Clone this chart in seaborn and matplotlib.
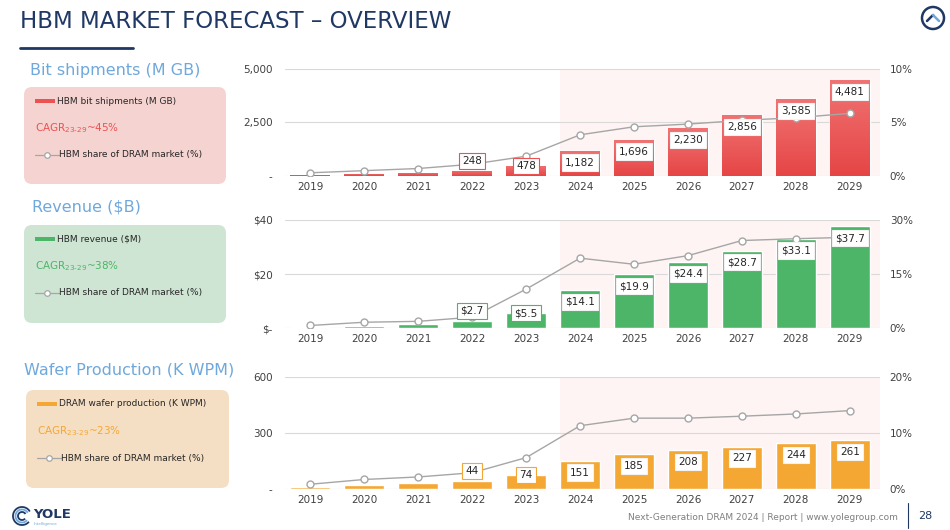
import numpy as np
import pandas as pd
import seaborn as sns
import matplotlib.pyplot as plt
from matplotlib.patches import FancyBboxPatch, Circle, Arc, Rectangle
from matplotlib.lines import Line2D
from matplotlib.colors import LinearSegmentedColormap

# data
years = ['2019', '2020', '2021', '2022', '2023', '2024', '2025', '2026', '2027', '2028', '2029']

bit_shipments = [60, 110, 160, 248, 478, 1182, 1696, 2230, 2856, 3585, 4481]
bit_labels = ['', '', '', '248', '478', '1,182', '1,696', '2,230', '2,856', '3,585', '4,481']
bit_share = [0.3, 0.5, 0.7, 1.1, 1.85, 3.85, 4.6, 4.85, 5.2, 5.45, 5.85]

revenue = [0.5, 0.9, 1.6, 2.7, 5.5, 14.1, 19.9, 24.4, 28.7, 33.1, 37.7]
revenue_labels = ['', '', '', '$2.7', '$5.5', '$14.1', '$19.9', '$24.4', '$28.7', '$33.1', '$37.7']
revenue_share = [0.7, 1.6, 1.85, 3.0, 10.8, 19.4, 17.7, 20.1, 24.3, 24.8, 25.2]

wafers = [10, 23, 32, 44, 74, 151, 185, 208, 227, 244, 261]
wafer_labels = ['', '', '', '44', '74', '151', '185', '208', '227', '244', '261']
wafer_share = [0.85, 1.7, 2.15, 2.9, 5.6, 11.3, 12.65, 12.65, 13.0, 13.4, 14.0]

W, H = 950, 530
NAVY = '#1F3864'
BLUE = '#6FA8DC'
GREY_LINE = '#A6A6A6'
TXT = '#404040'

sns.set_theme(style='white')
plt.rcParams['font.family'] = ['DejaVu Sans']

fig = plt.figure(figsize=(W / 100, H / 100), dpi=100)
fig.patch.set_facecolor('white')

# overlay in pixel coordinates for the slide decoration
deco = fig.add_axes([0, 0, 1, 1])
deco.set_xlim(0, W)
deco.set_ylim(H, 0)
deco.axis('off')

deco.text(20, 22, 'HBM MARKET FORECAST \u2013 OVERVIEW', color=NAVY, fontsize=16.5,
          va='center', ha='left')
deco.add_line(Line2D([20, 133], [48, 48], color=NAVY, lw=2))

# top right icon
deco.add_patch(Circle((933, 18), 11, fill=False, ec=NAVY, lw=1.8))
deco.add_line(Line2D([927, 933], [21, 15], color=NAVY, lw=1.8))
deco.add_line(Line2D([933, 939], [15, 21], color=BLUE, lw=1.8))


def cagr_text(pct):
    return 'CAGR$_{\\mathregular{23\u201029}}$~' + pct


def side_box(x0, y0, w, h, fc, title, title_xy, bar_color, bar_text, cagr, cagr_color):
    deco.add_patch(FancyBboxPatch((x0, y0), w, h, boxstyle='round,pad=0,rounding_size=8',
                                  fc=fc, ec='none'))
    deco.text(title_xy[0], title_xy[1], title, color=BLUE, fontsize=11.5, va='center')
    lx = x0 + 11
    deco.add_patch(Rectangle((lx, y0 + 12), 20, 4, fc=bar_color, ec='none'))
    deco.text(lx + 22, y0 + 14, bar_text, color='#262626', fontsize=6.5, va='center')
    deco.text(lx, y0 + 41, cagr, color=cagr_color, fontsize=7.5, va='center')
    deco.add_line(Line2D([lx, lx + 24], [y0 + 68, y0 + 68], color=GREY_LINE, lw=0.9))
    deco.plot([lx + 12], [y0 + 68], marker='o', ms=4, mfc='white', mec=GREY_LINE, mew=0.9)
    deco.text(lx + 24, y0 + 68, 'HBM share of DRAM market (%)', color='#262626',
              fontsize=6.5, va='center')


side_box(24, 87, 202, 97, '#F5D3D0', 'Bit shipments (M GB)', (30, 70), '#EC5252',
         'HBM bit shipments (M GB)', cagr_text('45%'), '#EC5252')
side_box(24, 225, 202, 98, '#CFE5D4', 'Revenue ($B)', (32, 207), '#4CB567',
         'HBM revenue ($M)', cagr_text('38%'), '#4CB567')
side_box(26, 390, 203, 98, '#F5DFC4', 'Wafer Production (K WPM)', (24, 370), '#F5A733',
         'DRAM wafer production (K WPM)', cagr_text('23%'), '#F5A733')

# footer
deco.text(898, 517, 'Next-Generation DRAM 2024 | Report | www.yolegroup.com', color='#7F7F7F',
          fontsize=6.5, ha='right', va='center')
deco.add_line(Line2D([908, 908], [503, 528], color=NAVY, lw=0.8))
deco.text(925, 516, '28', color=NAVY, fontsize=8, ha='center', va='center')

# logo
for r, c in [(9, NAVY), (6.5, BLUE), (4, NAVY)]:
    deco.add_patch(Arc((22, 516), 2 * r, 2 * r, theta1=40, theta2=330, color=c, lw=1.3))
deco.text(33, 514, 'YOLE', color=NAVY, fontsize=9.5, fontweight='bold', va='center')
deco.text(34, 524, 'Intelligence', color=BLUE, fontsize=3, va='center')


def panel(top, bot, vals, labels, share, ymax, yticklabels, smax, sticklabels, color,
          gradient=None, first_color=None):
    ax = fig.add_axes([285 / W, 1 - bot / H, (880 - 285) / W, (bot - top) / H])
    ax.set_facecolor('none')
    ax.axvspan(4.63, 10.6, color='#FDF4F3', lw=0, zorder=0)
    sns.barplot(x=years, y=vals, color=color, width=0.74, saturation=1, ax=ax, zorder=2)
    bars = list(ax.containers[0])
    ax.set_xlim(-0.47, 10.56)
    ax.set_ylim(0, ymax)
    if first_color:
        bars[0].set_facecolor(first_color)
    if gradient:
        cmap = LinearSegmentedColormap.from_list('g', gradient)
        grad = np.linspace(0, 1, 64).reshape(-1, 1)
        for p in bars:
            x0, y0 = p.get_x(), p.get_y()
            im = ax.imshow(grad, cmap=cmap, vmin=0, vmax=1, aspect='auto', zorder=2.1,
                           interpolation='bilinear',
                           extent=(x0, x0 + p.get_width(), y0, y0 + p.get_height()))
            im.set_clip_path(p)
        ax.set_xlim(-0.47, 10.56)
        ax.set_ylim(0, ymax)
    ax.set_yticks([0, ymax / 2, ymax])
    ax.set_yticklabels(yticklabels)
    ax.grid(axis='y', color='#D9D9D9', lw=0.8)
    ax.grid(axis='x', visible=False)
    ax.set_axisbelow(True)
    for s in ax.spines.values():
        s.set_visible(False)
    ax.tick_params(axis='y', length=0, pad=9, labelsize=7.5, labelcolor=TXT)
    ax.tick_params(axis='x', length=0, pad=4, labelsize=7.5, labelcolor=TXT)
    ax.set_xlabel('')
    ax.set_ylabel('')

    ax2 = ax.twinx()
    sns.lineplot(x=np.arange(len(years)), y=share, ax=ax2, color=GREY_LINE, lw=1,
                 marker='o', markersize=5, markerfacecolor='white',
                 markeredgecolor=GREY_LINE, markeredgewidth=1)
    ax2.set_ylim(0, smax)
    ax2.set_yticks([0, smax / 2, smax])
    ax2.set_yticklabels(sticklabels)
    ax2.tick_params(axis='y', length=0, pad=7, labelsize=7.5, labelcolor=TXT)
    for s in ax2.spines.values():
        s.set_visible(False)
    ax2.grid(False)
    ax2.set_ylabel('')

    for i, (v, lab) in enumerate(zip(vals, labels)):
        if not lab:
            continue
        if i == 3:
            dy, ec = 7, color
        elif i == 4:
            dy, ec = 0, color
        else:
            dy, ec = -8.5, '#F2F2F2'
        ax2.annotate(lab, xy=(i, v), xycoords=ax.transData, xytext=(0, dy),
                     textcoords='offset points', ha='center', va='center',
                     fontsize=7.5, color='#262626', zorder=5,
                     bbox=dict(boxstyle='square,pad=0.3', fc='white', ec=ec, lw=0.8))
    return ax


panel(69, 176, bit_shipments, bit_labels, bit_share, 5000, ['-', '2,500', '5,000'],
      10, ['0%', '5%', '10%'], '#EC5252', gradient=['#F07373', '#E64545'])
panel(220, 328, revenue, revenue_labels, revenue_share, 40, ['$-', '$20', '$40'],
      30, ['0%', '15%', '30%'], '#4CB567', first_color='#A5D9B0')
ax3 = panel(377, 489, wafers, wafer_labels, wafer_share, 600, ['-', '300', '600'],
            20, ['0%', '10%', '20%'], '#F5A733')

fig.savefig('out.png', dpi=100)
